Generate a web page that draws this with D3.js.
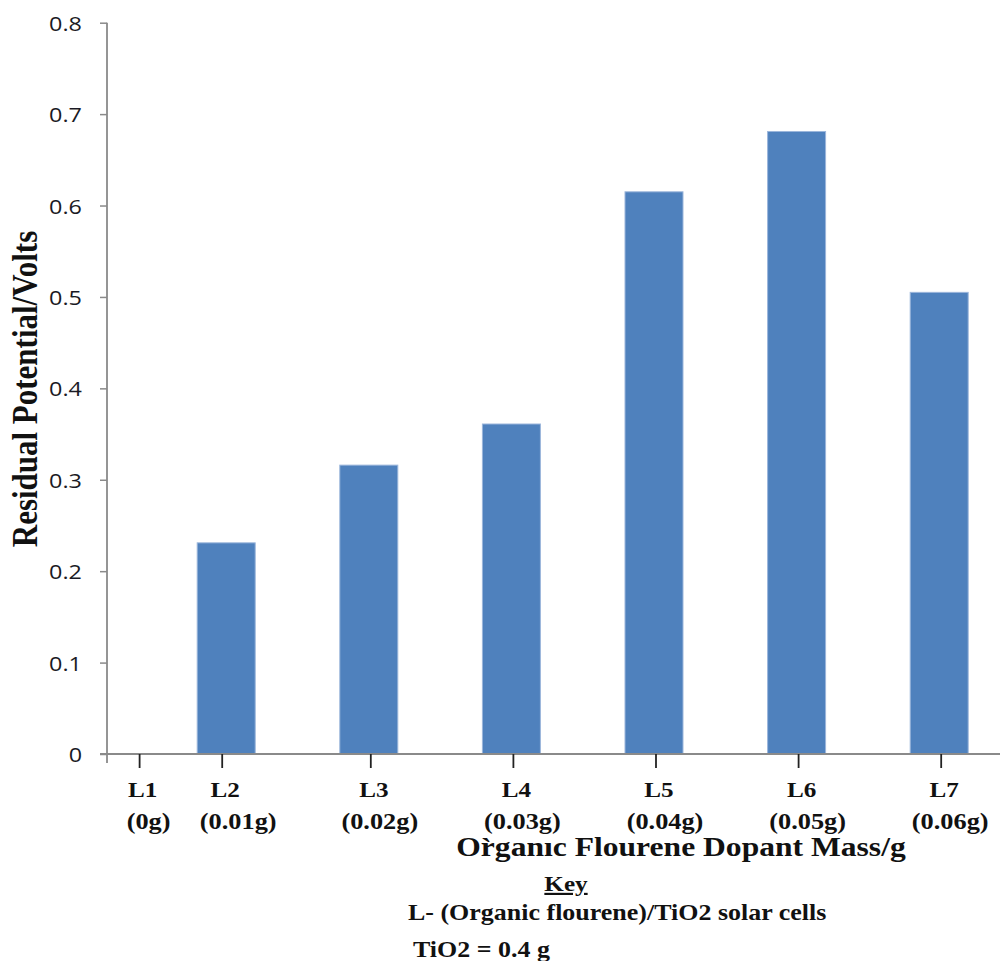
<!DOCTYPE html>
<html>
<head>
<meta charset="utf-8">
<script src="https://cdn.jsdelivr.net/npm/d3@7"></script>
<style>
  html, body { margin: 0; padding: 0; background: #ffffff; }
  svg { display: block; }
</style>
</head>
<body>
<svg id="chart" width="1000" height="961"></svg>
<script>
// Sample labels and their dopant masses
const categories = ["L1", "L2", "L3", "L4", "L5", "L6", "L7"];
const massLabels = ["(0g)", "(0.01g)", "(0.02g)", "(0.03g)", "(0.04g)", "(0.05g)", "(0.06g)"];
// Residual potential (V) for each sample
const residualPotential = [0, 0.231, 0.316, 0.361, 0.615, 0.681, 0.505];
// Y-axis tick values and labels
const yTickValues = [0, 0.1, 0.2, 0.3, 0.4, 0.5, 0.6, 0.7, 0.8];
const yTickLabels = ["0", "0.1", "0.2", "0.3", "0.4", "0.5", "0.6", "0.7", "0.8"];

const xTitle = "Or\u0300ganıc Flourene Dopant Mass/g";
const yTitle = "Residual Potential/Volts";
const keyTitle = "Key";
const keyLines = ["L- (Organic flourene)/TiO2 solar cells", "TiO2 = 0.4 g"];

const svg = d3.select("#chart");
const SX = 1.17;               // horizontal stretch applied to all text
const serif = "'Liberation Serif', 'Times New Roman', serif";
const sans = "'Open Sans', 'Noto Sans', sans-serif";

const y = d3.scaleLinear().domain([0, 0.8]).range([754, 22.7]);
const x = d3.scaleBand()
  .domain(categories)
  .range([12.3, 1010.5])
  .paddingInner(0.5933)
  .paddingOuter(0.2967);

const axisColor = "#8a8a8a";

// Bars
svg.append("g")
  .selectAll("rect")
  .data(categories.map((c, i) => ({ c, v: residualPotential[i] })))
  .join("rect")
  .attr("x", d => x(d.c))
  .attr("y", d => y(d.v))
  .attr("width", x.bandwidth())
  .attr("height", d => y(0) - y(d.v))
  .attr("fill", "#4f81bd")
  .attr("stroke", "#9bb6db")
  .attr("stroke-width", 1);

// Y axis
const yAxis = svg.append("g")
  .attr("transform", "translate(107,0)")
  .call(d3.axisLeft(y).tickValues(yTickValues).tickSize(7).tickFormat(""));
yAxis.select(".domain").remove();
yAxis.selectAll(".tick line").attr("stroke", axisColor).attr("stroke-width", 1.5);
svg.append("line")
  .attr("x1", 107).attr("x2", 107)
  .attr("y1", y(0.8)).attr("y2", y(0) + 9)
  .attr("stroke", axisColor).attr("stroke-width", 1.8);

// Y tick labels
svg.append("g")
  .selectAll("text")
  .data(yTickValues)
  .join("text")
  .attr("transform", d => `translate(82,${y(d) + 8}) scale(${SX},1)`)
  .attr("text-anchor", "end")
  .attr("font-family", sans)
  .attr("font-size", 20)
  .attr("fill", "#1a1a24")
  .text((d, i) => yTickLabels[i]);

// X axis baseline
svg.append("line")
  .attr("x1", 100).attr("x2", 1000)
  .attr("y1", y(0)).attr("y2", y(0))
  .attr("stroke", axisColor).attr("stroke-width", 1.8);

// Category ticks and two-line labels
const labelShift = { L1: 56, L2: -4 };
const tickX = c => x(c) + x.bandwidth() / 2 + (labelShift[c] !== undefined ? labelShift[c] : 2);

const xLab = svg.append("g")
  .selectAll("g")
  .data(categories)
  .join("g")
  .attr("transform", c => `translate(${tickX(c)},0)`);

xLab.append("line")
  .attr("x1", 0).attr("x2", 0)
  .attr("y1", y(0)).attr("y2", y(0) + 14)
  .attr("stroke", "#222").attr("stroke-width", 1.8);

xLab.append("text")
  .attr("transform", `translate(3,797) scale(${SX},1)`)
  .attr("text-anchor", "middle")
  .attr("font-family", serif)
  .attr("font-weight", "bold")
  .attr("font-size", 21.5)
  .attr("fill", "#111")
  .text(c => c);

xLab.append("text")
  .attr("transform", c => `translate(${c === "L2" ? 16 : 9},829) scale(${SX},1)`)
  .attr("text-anchor", "middle")
  .attr("font-family", serif)
  .attr("font-weight", "bold")
  .attr("font-size", 22.5)
  .attr("fill", "#111")
  .text((c, i) => massLabels[i]);

// Axis titles
svg.append("text")
  .attr("transform", `translate(681,856) scale(${SX},1)`)
  .attr("text-anchor", "middle")
  .attr("font-family", serif)
  .attr("font-weight", "bold")
  .attr("font-size", 27)
  .attr("fill", "#111")
  .text(xTitle);

svg.append("text")
  .attr("transform", `translate(37,389) rotate(-90) scale(1,${SX})`)
  .attr("text-anchor", "middle")
  .attr("font-family", serif)
  .attr("font-weight", "bold")
  .attr("font-size", 31)
  .attr("fill", "#111")
  .text(yTitle);

// Key
svg.append("text")
  .attr("transform", `translate(566,891) scale(${SX},1)`)
  .attr("text-anchor", "middle")
  .attr("font-family", serif)
  .attr("font-weight", "bold")
  .attr("font-size", 21.5)
  .attr("fill", "#111")
  .attr("text-decoration", "underline")
  .text(keyTitle);

svg.append("g")
  .selectAll("text")
  .data(keyLines)
  .join("text")
  .attr("transform", (d, i) => `translate(${i === 0 ? 408 : 413},${i === 0 ? 920 : 957}) scale(${SX},1)`)
  .attr("font-family", serif)
  .attr("font-weight", "bold")
  .attr("font-size", 22.2)
  .attr("fill", "#111")
  .text(d => d);
</script>
</body>
</html>
